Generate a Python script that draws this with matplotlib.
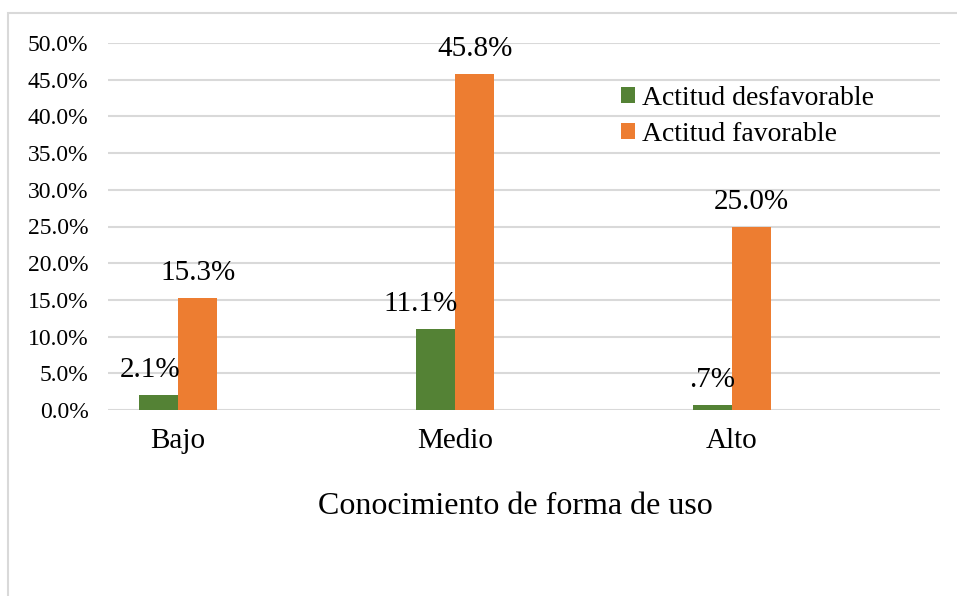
import matplotlib.pyplot as plt
from matplotlib.patches import Rectangle
from matplotlib.ticker import FuncFormatter
import numpy as np

plt.rcParams["font.family"] = ["Liberation Serif", "DejaVu Serif"]

categories = ["Bajo", "Medio", "Alto"]
desfavorable = [2.1, 11.1, 0.7]
favorable = [15.3, 45.8, 25.0]
series_names = ["Actitud desfavorable", "Actitud favorable"]

GREEN = "#548235"
ORANGE = "#ED7D31"
GRID = "#D9D9D9"


def pct_label(v):
    # ".0%" style: drop the leading zero for values under 1
    s = f"{v:.1f}%"
    return s[1:] if s.startswith("0") else s


W, H = 957, 596
fig = plt.figure(figsize=(W / 100, H / 100), dpi=100)
# chart-area frame (runs off the right and bottom edges)
fig.patches.append(Rectangle((8 / W, -0.1), 1.2, 1.1 - 13 / H,
                             transform=fig.transFigure, fill=False,
                             edgecolor=GRID, linewidth=1.5))

ax = fig.add_axes([108 / W, (H - 410) / H, 832 / W, 367 / H])
x = np.arange(len(categories))
bw = 0.142
b1 = ax.bar(x - bw / 2, desfavorable, bw, color=GREEN, label=series_names[0], zorder=3)
b2 = ax.bar(x + bw / 2, favorable, bw, color=ORANGE, label=series_names[1], zorder=3)

# small horizontal nudges (pixels) so labels clear the neighbouring bar
nudges = ([-6, -11, 0], [0, 0, 0])
for bars, vals, dxs in zip((b1, b2), (desfavorable, favorable), nudges):
    for rect, v, dx in zip(bars, vals, dxs):
        ax.annotate(pct_label(v), (rect.get_x() + rect.get_width() / 2, v),
                    xytext=(dx, 8.5), textcoords="offset points",
                    ha="center", va="bottom", fontsize=21)

ax.set_xlim(-0.253, 2.751)
ax.set_ylim(0, 50)
ax.set_yticks(np.arange(0, 50.1, 5))
ax.yaxis.set_major_formatter(FuncFormatter(lambda v, _: f"{v:.1f}%"))
ax.set_xticks(x)
ax.set_xticklabels(categories)
ax.tick_params(axis="y", length=0, pad=14, labelsize=17)
ax.tick_params(axis="x", length=0, pad=13, labelsize=21)
ax.grid(axis="y", color=GRID, linewidth=1.5, zorder=0)
for s in ax.spines.values():
    s.set_visible(False)
ax.set_xlabel("Conocimiento de forma de uso", fontsize=23, labelpad=27)
ax.xaxis.label.set_x(0.49)

ax.legend(loc="upper left", bbox_to_anchor=(0.600, 0.92), frameon=False,
          fontsize=20, borderpad=0, handlelength=0.5, handleheight=0.5,
          handletextpad=0.25, labelspacing=0.38)

fig.savefig("out.png", dpi=100)
